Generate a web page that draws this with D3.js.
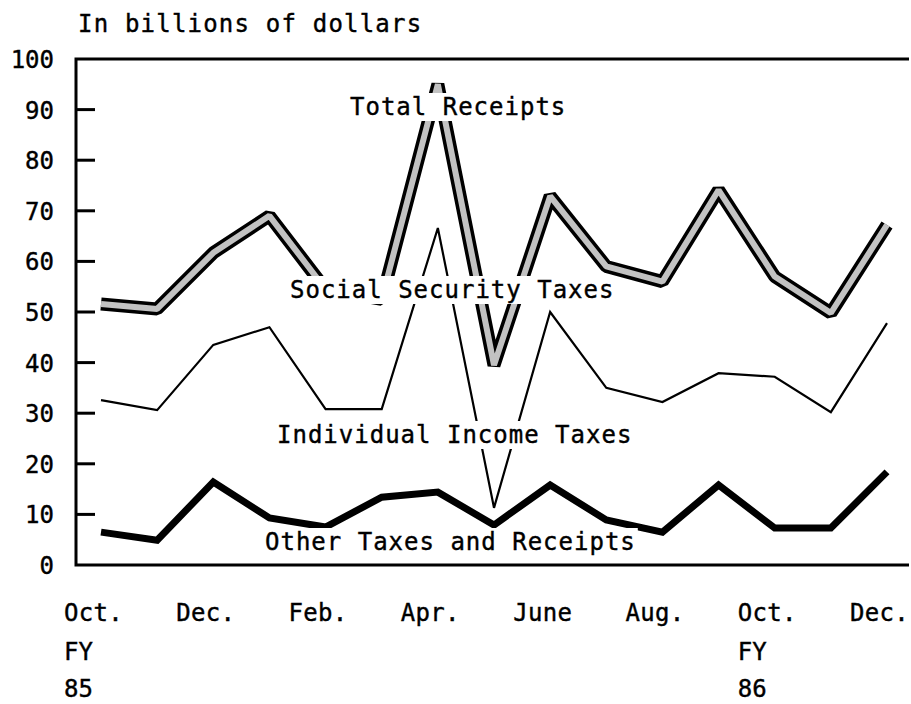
<!DOCTYPE html>
<html>
<head>
<meta charset="utf-8">
<title>Monthly receipts</title>
<script src="https://d3js.org/d3.v7.min.js"></script>
<style>
  body { margin: 0; background: #fff; }
  text { font-family: "DejaVu Sans Mono", monospace; fill: #000; stroke: #000; stroke-width: 0.4px; }
</style>
</head>
<body>
<svg width="911" height="704"></svg>

<script>
// Oct. FY85 through Dec. FY86, one point a month
var months = ["Oct.", "Nov.", "Dec.", "Jan.", "Feb.", "Mar.", "Apr.", "May", "June", "July", "Aug.", "Sep.", "Oct.", "Nov.", "Dec."];

// values in billions of dollars
var totalReceipts  = [51.6, 50.6, 61.7, 69, 54.5, 52.5, 95, 39.5, 72.9, 59, 56, 74.1, 57, 49.8, 67.2];
var incomeLine     = [32.6, 30.6, 43.5, 47, 30.8, 30.8, 66.6, 11.3, 50, 35, 32.2, 37.9, 37.2, 30.2, 47.8];
var otherLine      = [6.5, 4.9, 16.4, 9.3, 7.5, 13.4, 14.4, 7.9, 15.8, 8.9, 6.5, 15.8, 7.3, 7.3, 18.4];

var yTicks = [0, 10, 20, 30, 40, 50, 60, 70, 80, 90, 100];
var xTickIndex = [0, 2, 4, 6, 8, 10, 12, 14];
var fyLabels = [ {"i": 0, "fy": "85"}, {"i": 12, "fy": "86"} ];

var svg = d3.select("svg");

// note: "top" is taken by window.top, so use other names
var frameL = 76, frameR = 909, frameT = 59, frameB = 565;

var x = d3.scaleLinear().domain([0, months.length - 1]).range([101, 887]);
var y = d3.scaleLinear().domain([0, 100]).range([frameB, frameT]);

var line = d3.line()
    .x(function(d, i) { return x(i); })
    .y(function(d) { return y(d); });

// total receipts: wide black band with a grey core, cut corners at the peaks
svg.append("path")
    .attr("d", line(totalReceipts))
    .attr("fill", "none")
    .attr("stroke", "#000")
    .attr("stroke-width", 13)
    .attr("stroke-linejoin", "bevel");
svg.append("path")
    .attr("d", line(totalReceipts))
    .attr("fill", "none")
    .attr("stroke", "#c2c2c2")
    .attr("stroke-width", 6)
    .attr("stroke-linejoin", "bevel");

svg.append("path")
    .attr("d", line(incomeLine))
    .attr("fill", "none")
    .attr("stroke", "#000")
    .attr("stroke-width", 2.2);

svg.append("path")
    .attr("d", line(otherLine))
    .attr("fill", "none")
    .attr("stroke", "#000")
    .attr("stroke-width", 7);

// labels sit on white patches that cut the lines
var labels = [
  {"text": "Total Receipts", "x": 350, "y": 115},
  {"text": "Social Security Taxes", "x": 290, "y": 298},
  {"text": "Individual Income Taxes", "x": 277, "y": 443},
  {"text": "Other Taxes and Receipts", "x": 265, "y": 550}
];

labels.forEach(function(l) {
  var g = svg.append("g");
  var rect = g.append("rect").attr("fill", "#fff");
  var t = g.append("text")
      .attr("x", l.x)
      .attr("y", l.y)
      .style("font-size", "24px")
      .style("letter-spacing", "1px")
      .text(l.text);
  var b = t.node().getBBox();
  rect.attr("x", b.x - 4).attr("y", b.y)
      .attr("width", b.width + 6).attr("height", b.height);
});

// frame: left, top, bottom
svg.append("path")
    .attr("d", "M" + frameR + "," + frameT + "H" + frameL + "V" + frameB + "H" + frameR)
    .attr("fill", "none")
    .attr("stroke", "#000")
    .attr("stroke-width", 3);

// inward tick marks
svg.selectAll(".tick")
    .data(yTicks.slice(1, -1))
  .enter()
  .append("line")
    .attr("x1", frameL)
    .attr("x2", frameL + 19)
    .attr("y1", function(d) { return y(d); })
    .attr("y2", function(d) { return y(d); })
    .attr("stroke", "#000")
    .attr("stroke-width", 3);

svg.selectAll(".ylab")
    .data(yTicks)
  .enter()
  .append("text")
    .attr("x", 54)
    .attr("y", function(d) { return y(d) + 9; })
    .attr("text-anchor", "end")
    .style("font-size", "24px")
    .text(function(d) { return d; });

svg.append("text")
    .attr("x", 78)
    .attr("y", 32)
    .style("font-size", "24px")
    .style("letter-spacing", "1.2px")
    .text("In billions of dollars");

// month labels under the frame
svg.selectAll(".xlab")
    .data(xTickIndex)
  .enter()
  .append("text")
    .attr("x", function(d) { return x(d) - 37; })
    .attr("y", 621)
    .style("font-size", "24px")
    .style("letter-spacing", "0.3px")
    .text(function(d) { return months[d]; });

fyLabels.forEach(function(f) {
  svg.append("text").attr("x", x(f.i) - 37).attr("y", 660)
      .style("font-size", "24px").text("FY");
  svg.append("text").attr("x", x(f.i) - 37).attr("y", 697)
      .style("font-size", "24px").text(f.fy);
});
</script>
</body>
</html>
